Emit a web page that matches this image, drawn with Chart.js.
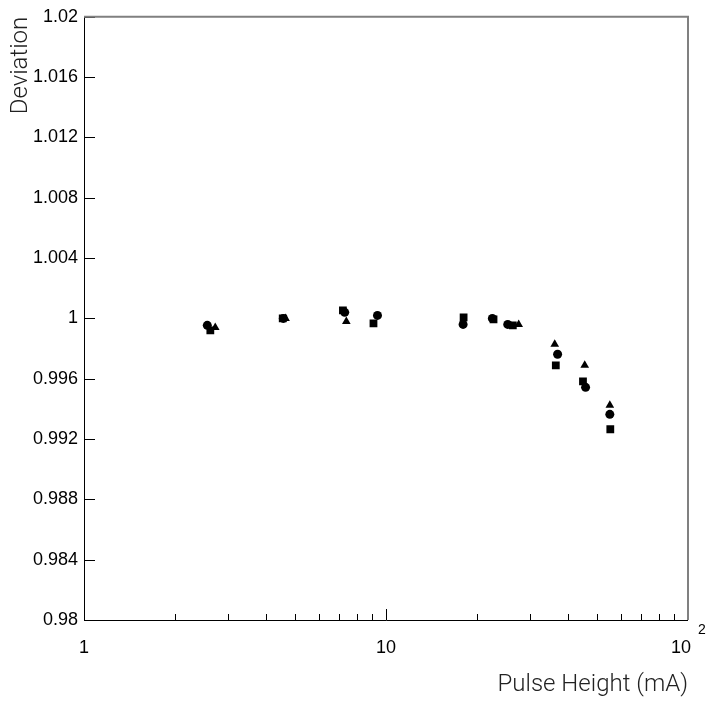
<!DOCTYPE html>
<html>
  <head>
    <meta charset="utf-8">
    <title>Deviation vs Pulse Height</title>
    <script type="text/javascript" src="https://cdn.jsdelivr.net/npm/chart.js"></script>
    <style>
      body { margin: 0; background: #fff; }
      #wrap { width: 712px; height: 703px; }
    </style>
  </head>
  <body>
    <div id="wrap"><canvas id="chart1" width="712" height="703"></canvas></div>
    <script>
      // pulse height (mA) and deviation, one pair of arrays per marker
      var circleX   = [2.56, 4.57, 7.30, 9.37, 18.0, 22.5, 25.3, 37.0, 45.8, 55.1];
      var circleY   = [0.99954, 1.0000, 1.00040, 1.00020, 0.99960, 1.0000, 0.99960, 0.99762, 0.99543, 0.99364];
      var squareX   = [2.62, 4.55, 7.20, 9.09, 18.07, 22.7, 26.3, 36.5, 44.9, 55.3];
      var squareY   = [0.99921, 1.0000, 1.00053, 0.99967, 1.00007, 0.99993, 0.99954, 0.99689, 0.99583, 0.99265];
      var triangleX = [2.72, 4.65, 7.39, 27.5, 36.2, 45.5, 55.1];
      var triangleY = [0.99940, 1.0000, 0.99980, 0.99960, 0.99828, 0.99689, 0.99424];

      var yTicks = [0.98, 0.984, 0.988, 0.992, 0.996, 1, 1.004, 1.008, 1.012, 1.016, 1.02];
      var xMajor = [1, 10, 100];
      var xMinor = [2, 3, 4, 5, 6, 7, 8, 9, 20, 30, 40, 50, 60, 70, 80, 90];
      var xLabels = ['1', '10', '10'];

      var FONT = '"Liberation Sans", Arial, sans-serif';
      var TITLE_FONT = 'Roboto, "Liberation Sans", sans-serif';

      function pts(xs, ys){
        var out = [];
        for(var i=0; i < xs.length; i++) out.push({x: xs[i], y: ys[i]});
        return out;
      }

      // frame, inward tick marks and the x labels (10^2 needs a superscript)
      var frameAxes = {
        id: 'frameAxes',
        afterDraw: function(chart){
          var ctx = chart.ctx, a = chart.chartArea;
          var sx = chart.scales.x, sy = chart.scales.y;
          ctx.save();
          ctx.strokeStyle = '#000';
          ctx.lineWidth = 1;
          ctx.beginPath();
          for(var i=0; i < yTicks.length; i++){
            var py = Math.round(sy.getPixelForValue(yTicks[i])) + 0.5;
            ctx.moveTo(a.left, py); ctx.lineTo(a.left + 11, py);
          }
          for(var j=0; j < xMajor.length; j++){
            var px = Math.round(sx.getPixelForValue(xMajor[j])) + 0.5;
            ctx.moveTo(px, a.bottom); ctx.lineTo(px, a.bottom - 11);
          }
          for(var k=0; k < xMinor.length; k++){
            var qx = Math.round(sx.getPixelForValue(xMinor[k])) + 0.5;
            ctx.moveTo(qx, a.bottom); ctx.lineTo(qx, a.bottom - 6);
          }
          ctx.stroke();

          ctx.beginPath();
          ctx.moveTo(Math.round(a.left) + 0.5, a.top);
          ctx.lineTo(Math.round(a.left) + 0.5, Math.round(a.bottom) + 0.5);
          ctx.lineTo(a.right, Math.round(a.bottom) + 0.5);
          ctx.stroke();
          ctx.strokeStyle = '#808080';
          ctx.lineWidth = 2;
          ctx.beginPath();
          ctx.moveTo(a.left, a.top);
          ctx.lineTo(a.right, a.top);
          ctx.lineTo(a.right, a.bottom);
          ctx.stroke();

          ctx.fillStyle = '#000';
          ctx.font = '18px ' + FONT;
          ctx.textBaseline = 'middle';
          for(var m=0; m < xMajor.length; m++){
            var lx = sx.getPixelForValue(xMajor[m]);
            if(xMajor[m] == 100){
              ctx.textAlign = 'right';
              ctx.fillText(xLabels[m], lx + 3, a.bottom + 28);
              ctx.font = '14px ' + FONT;
              ctx.textAlign = 'left';
              ctx.fillText('2', lx + 10, a.bottom + 10);
              ctx.font = '18px ' + FONT;
            } else {
              ctx.textAlign = 'center';
              ctx.fillText(xLabels[m], lx, a.bottom + 28);
            }
          }
          ctx.restore();
        }
      };

      var markerSet = {pointBackgroundColor: '#000', pointBorderWidth: 0, showLine: false};

      new Chart(document.getElementById('chart1').getContext('2d'), {
        type: 'scatter',
        data: {
          datasets: [
            Object.assign({label: 'circle', data: pts(circleX, circleY), pointStyle: 'circle', pointRadius: 4.5}, markerSet),
            Object.assign({label: 'square', data: pts(squareX, squareY), pointStyle: 'rect', pointRadius: 5.5}, markerSet),
            Object.assign({label: 'triangle', data: pts(triangleX, triangleY), pointStyle: 'triangle', pointRadius: 5}, markerSet)
          ]
        },
        options: {
          responsive: false,
          animation: false,
          layout: {padding: {top: 15, right: 24, left: 0, bottom: 0}},
          plugins: {legend: {display: false}, tooltip: {enabled: false}},
          scales: {
            x: {
              type: 'logarithmic',
              min: 1, max: 100,
              grid: {display: false, drawTicks: false},
              border: {display: false},
              ticks: {display: false},
              afterFit: function(s){ s.height = 83; },
              title: {
                display: true, text: 'Pulse Height (mA)', align: 'end', color: '#222',
                font: {family: TITLE_FONT, size: 24, weight: 300}, padding: {top: 0, bottom: 4}
              }
            },
            y: {
              min: 0.98, max: 1.02,
              grid: {display: false, drawTicks: false},
              border: {display: false},
              afterBuildTicks: function(s){ s.ticks = yTicks.map(function(v){ return {value: v}; }); },
              afterFit: function(s){ s.width = 84; },
              ticks: {
                color: '#000', padding: 6,
                font: {family: FONT, size: 18},
                callback: function(v){ return String(parseFloat(Number(v).toFixed(3))); }
              },
              title: {
                display: true, text: 'Deviation', align: 'end', color: '#222',
                font: {family: TITLE_FONT, size: 24, weight: 300}, padding: {top: 7, bottom: 0}
              }
            }
          }
        },
        plugins: [frameAxes]
      });
    </script>
  </body>
</html>
